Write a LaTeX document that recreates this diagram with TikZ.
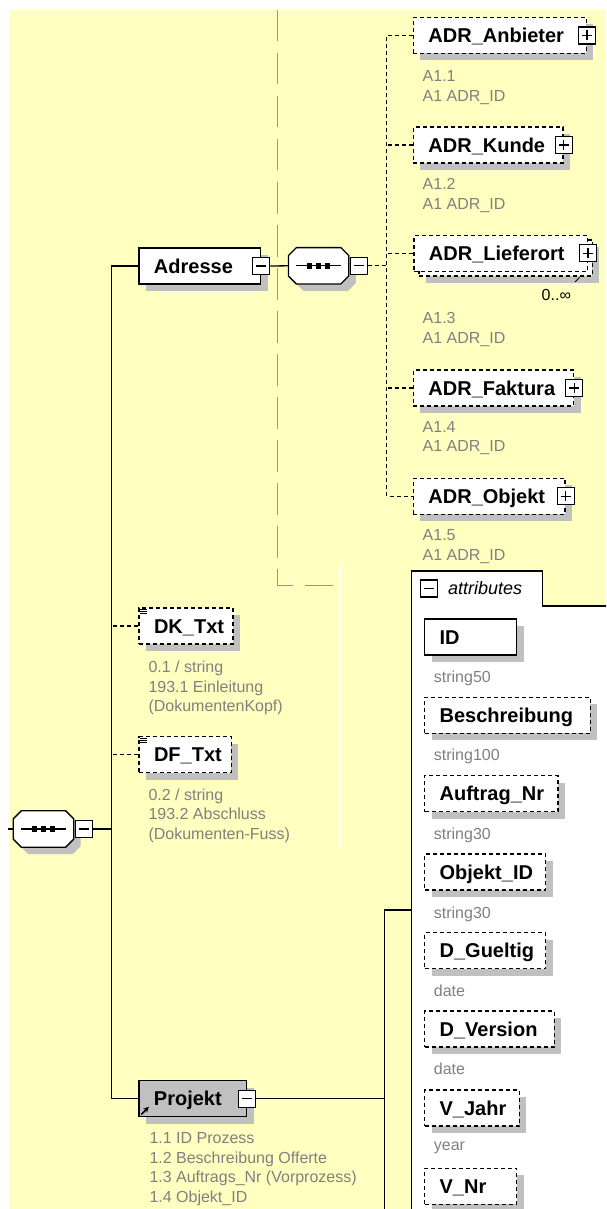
\documentclass[tikz,border=0pt]{standalone}
\usepackage{fontspec}
\setmainfont{Liberation Sans}
\usepackage{tikz}
\usetikzlibrary{positioning,arrows.meta}

\definecolor{xsdyellow}{RGB}{255,255,192}
\definecolor{xsdshade}{RGB}{192,192,192}
\definecolor{xsdnote}{RGB}{128,128,128}
\definecolor{xsdguide}{RGB}{150,150,150}

\newcommand{\elfont}{\fontsize{20}{24}\selectfont\bfseries}
\newcommand{\notefont}{\fontsize{16}{19.5}\selectfont}
\newcommand{\tabfont}{\fontsize{18}{21}\selectfont\itshape}

% octagon of a sequence compositor, cut out of node #1
\newcommand{\octpath}[1]{([xshift=8pt]#1.north west) -- ([xshift=-8pt]#1.north east)
    -- ([yshift=-8pt]#1.north east) -- ([yshift=8pt]#1.south east)
    -- ([xshift=-8pt]#1.south east) -- ([xshift=8pt]#1.south west)
    -- ([yshift=8pt]#1.south west) -- ([yshift=-8pt]#1.north west) -- cycle}
\newcommand{\seqglyph}[1]{%
    \fill[xsdshade, transform canvas={xshift=7pt, yshift=-7pt}] \octpath{#1};
    \filldraw[fill=white, draw=black, line width=1.3pt] \octpath{#1};
    \draw[line width=1.2pt] ([xshift=8pt]#1.west) -- ([xshift=-8pt]#1.east);
    \foreach \dx in {-9,0,9}
        \fill[black] ([xshift=\dx pt]#1.center) +(-2.8pt,-2.8pt) rectangle +(2.8pt,2.8pt);
}

\begin{document}
\begin{tikzpicture}[
    x=1pt, y=-1pt,
    shadow/.style={
        preaction={
            transform canvas={xshift=7pt, yshift=-7pt},
            fill=xsdshade, draw=none
        }
    },
    elplain/.style={
        draw=black, line width=1.3pt, fill=white,
        minimum height=36pt, inner xsep=15pt, inner ysep=0pt,
        align=left, text height=14.3pt, text depth=0pt,
        font=\elfont, text=black, anchor=west
    },
    el/.style={elplain, shadow},
    opt/.style={dash pattern=on 4pt off 3pt},
    tgl/.style={
        draw=black, line width=1.1pt, fill=white,
        minimum size=17pt, inner sep=0pt
    },
    tglminus/.style={
        tgl,
        path picture={
            \draw[line width=1.2pt]
                ([xshift=3.5pt]path picture bounding box.west) --
                ([xshift=-3.5pt]path picture bounding box.east);
        }
    },
    tglplus/.style={
        tgl,
        path picture={
            \draw[line width=1.2pt]
                ([xshift=3.5pt]path picture bounding box.west) --
                ([xshift=-3.5pt]path picture bounding box.east)
                ([yshift=-3.5pt]path picture bounding box.north) --
                ([yshift=3.5pt]path picture bounding box.south);
        }
    },
    compo/.style={
        draw=none, minimum width=60pt, minimum height=36pt, inner sep=0pt
    },
    note/.style={
        font=\notefont, text=xsdnote,
        inner sep=0pt, align=left, anchor=north west
    },
    notei/.style={
        font=\notefont, text=xsdnote,
        inner sep=0pt, anchor=base west
    },
    conn/.style={draw=black, line width=1.3pt}
]

% page, background
\useasboundingbox (0,0) rectangle (606,1209);
\clip (0,0) rectangle (606,1209);
\fill[white] (0,0) rectangle (606,1209);
\fill[xsdyellow] (9,10) rectangle (606,1209);

\draw[xsdguide, line width=1pt, dash pattern=on 31.5pt off 11.5pt]
    (277.5,10) |- (333,585);
\draw[white, line width=1.2pt] (340,565) -- (340,848);

% attributes panel
\fill[white] (411.7,571) -- (542.7,571) -- (542.7,606) -- (615,606)
    -- (615,1220) -- (411.7,1220) -- cycle;
\draw[conn] (411.7,1220) -- (411.7,571) -- (542.7,571) -- (542.7,606)
    -- (615,606);
\node[tglminus] (attrx) at (429,588.5) {};
\node[font=\tabfont, anchor=west, inner sep=0pt] (attrlbl) at (448,588.4)
    {attributes};

% root sequence
\node[compo] (root) at (43.5,829) {};
\seqglyph{root}
\node[tglminus, right=1pt of root] (rootx) {};

% Adresse
\node[el] (adr) at (138.3,266) [text width=91.7pt] {Adresse};
\node[tglminus] (adrx) at (adr.east) {};
\node[compo] (seq) at (318.6,265.8) {};
\seqglyph{seq}
\node[tglminus, right=1pt of seq] (seqx) {};

\node[el, opt] (anb) at (412.8,35.5) [text width=142.8pt] {ADR\_Anbieter};
\node[tglplus] (anbx) at (anb.east) {};
\node[note] (anbdoc) at (422.5,70.3) {A1.1\\A1 ADR\_ID};

\node[el, opt] (kun) at (412.8,145) [text width=119.6pt] {ADR\_Kunde};
\node[tglplus] (kunx) at (kun.east) {};
\node[note] (kundoc) at (422.5,178.3) {A1.2\\A1 ADR\_ID};

\node[el, opt] (liefbk) at (418.3,257.9) [text width=143.4pt] {};
\node[elplain, opt] (lief) at (413.3,253.4) [text width=143.4pt]
    {ADR\_Lieferort};
\node[tglplus] (liefx) at (lief.east) {};
\draw[line width=0.8pt] (575,282) -- (579.5,277.5);
\node[font=\notefont, anchor=west, inner sep=0pt] (liefcard) at (541.5,294.5)
    {0..∞};
\node[note] (liefdoc) at (422.5,312.6) {A1.3\\A1 ADR\_ID};

\node[el, opt] (fak) at (412.8,388) [text width=130.1pt] {ADR\_Faktura};
\node[tglplus] (fakx) at (fak.east) {};
\node[note] (fakdoc) at (422.5,421) {A1.4\\A1 ADR\_ID};

\node[el, opt] (obj) at (412.8,496.2) [text width=121.6pt] {ADR\_Objekt};
\node[tglplus] (objx) at (obj.east) {};
\node[note] (objdoc) at (422.5,529.6) {A1.5\\A1 ADR\_ID};

% text elements
\node[el, opt] (dk) at (138.4,626) [text width=64pt] {DK\_Txt};
\node[note] (dkdoc) at (148.3,661)
    {0.1 / string\\193.1 Einleitung\\(DokumentenKopf)};
\node[el, opt] (df) at (138.4,754.7) [text width=62.4pt] {DF\_Txt};
\node[note] (dfdoc) at (148.3,788.6)
    {0.2 / string\\193.2 Abschluss\\(Dokumenten-Fuss)};
\foreach \k in {0,1,2} {
    \draw[line width=0.7pt] ([xshift=2pt,yshift={-(2+2*\k)*1pt}]dk.north west)
        -- ++(6.5pt,0);
    \draw[line width=0.7pt] ([xshift=2pt,yshift={-(2+2*\k)*1pt}]df.north west)
        -- ++(6.5pt,0);
}

% Projekt
\node[el, fill=xsdshade] (prj) at (138.3,1098.7) [text width=77.7pt] {Projekt};
\node[tglminus] (prjx) at (prj.east) {};
\draw[-{Stealth[length=5.5pt,width=5.5pt]}, line width=1.6pt]
    ([xshift=3pt,yshift=3pt]prj.south west) -- ++(7.5pt,7.5pt);
\node[note] (prjdoc) at (149.3,1132.5)
    {1.1 ID Prozess\\1.2 Beschreibung Offerte\\1.3 Auftrags\_Nr (Vorprozess)\\1.4 Objekt\_ID};

% attributes
\node[el] (id) at (424,637) [text width=62pt] {ID};
\node[notei] (iddoc) at (433.7,682.5) {string50};
\node[el, opt] (besch) at (424,715.3) [text width=135.5pt] {Beschreibung};
\node[notei] (beschdoc) at (433.7,760.8) {string100};
\node[el, opt] (auftr) at (424,793.7) [text width=103.4pt] {Auftrag\_Nr};
\node[notei] (auftrdoc) at (433.7,839) {string30};
\node[el, opt] (objid) at (424,872) [text width=91pt] {Objekt\_ID};
\node[notei] (objiddoc) at (433.7,918.5) {string30};
\node[el, opt] (dgue) at (424,950.7) [text width=91pt] {D\_Gueltig};
\node[notei] (dguedoc) at (433.7,996.5) {date};
\node[el, opt] (dver) at (424,1029) [text width=99.5pt] {D\_Version};
\node[notei] (dverdoc) at (433.7,1074.8) {date};
\node[el, opt] (vjahr) at (424,1108) [text width=64.7pt] {V\_Jahr};
\node[notei] (vjahrdoc) at (433.7,1150.8) {year};
\node[el, opt] (vnr) at (424,1186.3) [text width=62pt] {V\_Nr};

% connectors
\coordinate (rootin) at (8,829);
\coordinate (trunk) at (111.3,829);
\coordinate (adrbus) at (386.5,265.8);
\coordinate (prjbus) at (384.6,1098.7);
\coordinate (attrin) at (411.7,910);
\coordinate (prjout) at (384.6,1220);

\draw[conn] (rootin) -- (root.west);
\draw[conn] (rootx.east) -- (trunk);
\draw[conn] (adr.west) -| (trunk) |- (prj.west);
\draw[conn, opt] (dk.west) -- (dk.west -| trunk);
\draw[conn, opt] (df.west) -- (df.west -| trunk);

\draw[conn] (adrx.east) -- (seq.west);
\draw[conn, opt] (seqx.east) -- (adrbus);
\draw[conn, opt] (anb.west) -| (adrbus) |- (obj.west);
\draw[conn, opt] (kun.west) -- (kun.west -| adrbus);
\draw[conn, opt] (lief.west) -- (lief.west -| adrbus);
\draw[conn, opt] (fak.west) -- (fak.west -| adrbus);

\draw[conn] (prjx.east) -- (prjbus);
\draw[conn] (attrin) -| (prjout);

\end{tikzpicture}
\end{document}
